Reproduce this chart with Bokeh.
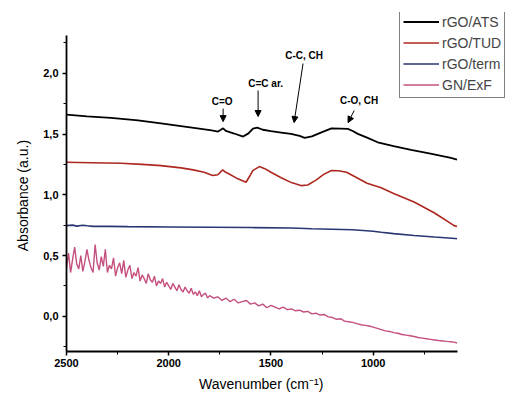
from bokeh.plotting import figure
from bokeh.models import (Range1d, FixedTicker, CustomJSTickFormatter, Legend,
                          LegendItem, Label, Arrow, NormalHead)
from bokeh.embed import file_html
from bokeh.resources import INLINE

# ---- data ----
ats_wn = [2500, 2400, 2282, 2150, 2038, 1940, 1842, 1790, 1759, 1745, 1734, 1720, 1680, 1636,
          1610, 1588, 1567, 1540, 1500, 1450, 1402, 1360, 1335, 1300, 1253, 1204, 1160, 1124,
          1100, 1075, 1030, 978, 900, 815, 720, 620, 590]
ats_val = [1.660, 1.645, 1.633, 1.612, 1.588, 1.565, 1.542, 1.530, 1.520, 1.535, 1.547, 1.525,
           1.504, 1.479, 1.505, 1.545, 1.552, 1.535, 1.523, 1.512, 1.501, 1.485, 1.468, 1.480,
           1.514, 1.547, 1.545, 1.542, 1.525, 1.501, 1.470, 1.432, 1.400, 1.370, 1.338, 1.304,
           1.290]

tud_wn = [2500, 2380, 2233, 2130, 2038, 1940, 1880, 1827, 1785, 1760, 1736, 1722, 1711, 1662,
          1622, 1605, 1589, 1557, 1530, 1500, 1450, 1400, 1350, 1320, 1280, 1240, 1204, 1170,
          1130, 1080, 1030, 961, 900, 800, 700, 604, 590]
tud_val = [1.268, 1.264, 1.259, 1.250, 1.240, 1.221, 1.205, 1.185, 1.158, 1.165, 1.205, 1.185,
           1.177, 1.131, 1.103, 1.150, 1.199, 1.232, 1.215, 1.185, 1.140, 1.100, 1.075, 1.080,
           1.120, 1.170, 1.200, 1.198, 1.185, 1.140, 1.095, 1.057, 1.010, 0.940, 0.850, 0.746,
           0.738]

term_wn = [2500, 2470, 2450, 2420, 2400, 2370, 2300, 2200, 2000, 1800, 1600, 1400, 1300, 1200,
           1100, 1000, 961, 900, 800, 700, 600, 590]
term_val = [0.746, 0.750, 0.742, 0.749, 0.745, 0.740, 0.740, 0.738, 0.735, 0.733, 0.730, 0.726,
            0.720, 0.716, 0.712, 0.700, 0.691, 0.680, 0.665, 0.652, 0.640, 0.638]

# GN/ExF sampled every 10 cm-1 in the noisy part, every 20 cm-1 after
exf_wn = list(range(2500, 1790, -10)) + list(range(1780, 599, -20)) + [590]
exf_val = [
    0.40, 0.52, 0.36, 0.47, 0.57, 0.43, 0.39, 0.50, 0.37, 0.45,
    0.55, 0.46, 0.40, 0.36, 0.59, 0.44, 0.38, 0.49, 0.41, 0.55,
    0.36, 0.42, 0.39, 0.48, 0.33, 0.40, 0.44, 0.35, 0.46, 0.32,
    0.38, 0.42, 0.31, 0.36, 0.33, 0.40, 0.29, 0.34, 0.31, 0.27,
    0.35, 0.30, 0.28, 0.33, 0.25, 0.29, 0.27, 0.31, 0.24, 0.28,
    0.25, 0.22, 0.27, 0.24, 0.21, 0.26, 0.22, 0.20, 0.24, 0.21,
    0.19, 0.23, 0.18, 0.20, 0.17, 0.21, 0.16, 0.18, 0.19, 0.15,
    0.17,
    0.15, 0.16, 0.13, 0.15, 0.12, 0.14, 0.11, 0.12, 0.13, 0.10,
    0.11, 0.085, 0.10, 0.07, 0.09, 0.075, 0.06, 0.075, 0.055, 0.06,
    0.045, 0.05, 0.035, 0.04, 0.02, 0.025, 0.01, 0.015, -0.005, -0.01,
    -0.025, -0.02, -0.04, -0.045, -0.05, -0.06, -0.07, -0.075, -0.08, -0.09,
    -0.10, -0.11, -0.12, -0.125, -0.135, -0.14, -0.15, -0.155, -0.16, -0.167,
    -0.175, -0.18, -0.185, -0.19, -0.195, -0.20, -0.203, -0.207, -0.21, -0.215,
    -0.22,
]

series_names = ["rGO/ATS", "rGO/TUD", "rGO/term", "GN/ExF"]
series_colors = ["#000000", "#ac2820", "#2a3672", "#c4507f"]

x_ticks = [2500, 2000, 1500, 1000]
x_minor = [2250, 1750, 1250, 750]
y_ticks = [0, 0.5, 1.0, 1.5, 2.0]
y_minor = [-0.25, 0.25, 0.75, 1.25, 1.75, 2.25]

# annotations: (text, label x, label y, arrow start x, y, arrow end x, y)
annotations = [
    ("C=O", 1739, 1.767, 1734, 1.709, 1734, 1.602),
    ("C=C ar.", 1526, 1.919, 1563, 1.858, 1563, 1.644),
    ("C-C, CH", 1338, 2.146, 1343, 2.080, 1387, 1.594),
    ("C-O, CH", 1069, 1.775, 1093, 1.693, 1123, 1.594),
]

FONT = "Liberation Sans"
NB = "\u00a0"

p = figure(width=506, height=394, output_backend="svg", toolbar_location=None,
           x_range=Range1d(2500, 348), y_range=Range1d(-0.29, 2.50),
           min_border_left=66, min_border_right=0, min_border_top=12,
           min_border_bottom=43)
p.outline_line_color = None
p.grid.visible = False
p.background_fill_color = "white"

xs = [ats_wn, tud_wn, term_wn, exf_wn]
ys = [ats_val, tud_val, term_val, exf_val]
widths = [1.8, 1.6, 1.6, 1.4]
renderers = []
for x, y, c, w in zip(xs, ys, series_colors, widths):
    renderers.append(p.line(x, y, line_color=c, line_width=w))

# axes
p.xaxis.ticker = FixedTicker(ticks=x_ticks, minor_ticks=x_minor)
p.yaxis.ticker = FixedTicker(ticks=y_ticks, minor_ticks=y_minor)
p.xaxis.bounds = (2500, 590)
p.yaxis.bounds = (-0.29, 2.31)
p.yaxis.formatter = CustomJSTickFormatter(code="return tick.toFixed(1).replace('.', ',');")
for ax in (p.xaxis[0], p.yaxis[0]):
    ax.axis_line_width = 1.8
    ax.axis_line_color = "black"
    ax.major_tick_in = 0
    ax.major_tick_out = 4
    ax.minor_tick_in = 0
    ax.minor_tick_out = 3
    ax.major_tick_line_width = 1.5
    ax.major_label_text_font = FONT
    ax.major_label_text_font_style = "bold"
    ax.major_label_text_font_size = "11px"
    ax.major_label_text_color = "black"
    ax.axis_label_text_font = FONT
    ax.axis_label_text_font_style = "normal"
    ax.axis_label_text_font_size = "14px"
    ax.axis_label_text_color = "black"
# trailing no-break spaces shift the centred titles under the drawn axis segment
p.xaxis.axis_label = "Wavenumber (cm⁻¹)" + NB * 13
p.yaxis.axis_label = "Absorbance (a.u.)" + NB * 7
p.xaxis.major_label_standoff = 3
p.xaxis.axis_label_standoff = 6
p.yaxis.major_label_standoff = 4
p.yaxis.axis_label_standoff = 9

# annotations
for text, lx, ly, sx, sy, ex, ey in annotations:
    p.add_layout(Label(x=lx, y=ly, text=text, text_align="center", text_baseline="middle",
                       text_font=FONT, text_font_style="bold", text_font_size="10px",
                       text_color="black"))
    p.add_layout(Arrow(x_start=sx, y_start=sy, x_end=ex, y_end=ey, line_width=1,
                       line_color="black",
                       end=NormalHead(size=6, fill_color="black", line_color="black")))

legend = Legend(items=[LegendItem(label=n, renderers=[r]) for n, r in zip(series_names, renderers)],
                location=(333, 253), orientation="vertical",
                glyph_width=36, glyph_height=19, label_height=19, spacing=2,
                padding=3, margin=0, label_standoff=3,
                label_text_font=FONT, label_text_font_size="14px",
                border_line_color="black", border_line_width=1,
                background_fill_color="white", background_fill_alpha=1)
p.add_layout(legend, "center")

open("out.html", "w").write(file_html(p, INLINE))
